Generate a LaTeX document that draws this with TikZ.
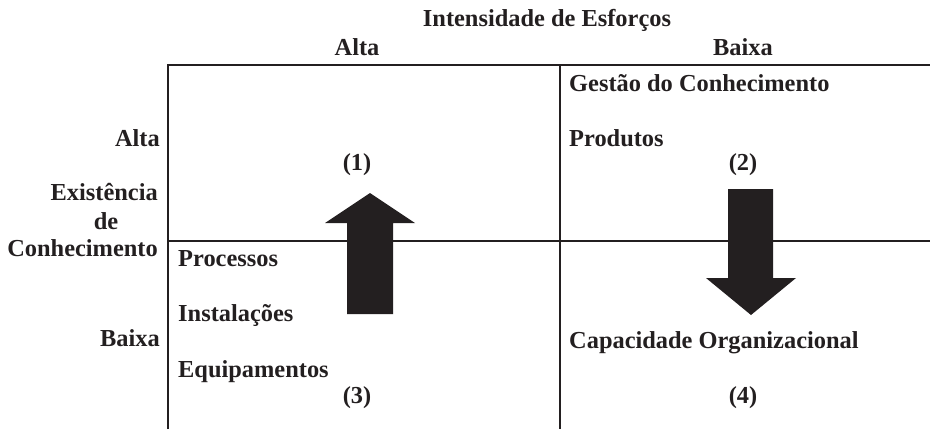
\documentclass[tikz,border=0pt]{standalone}
\usepackage{fontspec}
\setmainfont{Liberation Serif}
\definecolor{ink}{HTML}{231F20}
\tikzset{
  lbl/.style={inner sep=0pt, text=ink, font=\fontsize{24.4}{28}\selectfont\bfseries},
  grid/.style={draw=ink, line width=2pt},
  bigarrow/.style={fill=ink, draw=none}
}
\begin{document}
\begin{tikzpicture}[x=1pt,y=-1pt]
\useasboundingbox (0,0) rectangle (930,429);
% grid
\draw[grid] (168,429) -- (168,65) -- (930,65);
\draw[grid] (560,65) -- (560,429);
\draw[grid] (168,241) -- (930,241);
% arrows
\fill[bigarrow] (370,193) -- (415,223) -- (393,223) -- (393,314) -- (347,314) -- (347,223) -- (325,223) -- cycle;
\fill[bigarrow] (751,315) -- (796,278) -- (773,278) -- (773,189) -- (728,189) -- (728,278) -- (706,278) -- cycle;
% headers
\node[lbl, anchor=base] (title) at (547,26) {Intensidade de Esforços};
\node[lbl, anchor=base] (hAlta) at (357,55) {Alta};
\node[lbl, anchor=base] (hBaixa) at (743,55) {Baixa};
% left labels
\node[lbl, anchor=base east] (vAlta) at (160,146) {Alta};
\node[lbl, anchor=base east] (ex1) at (158,200) {Existência};
\node[lbl, anchor=base] (ex2) at (106,229) {de};
\node[lbl, anchor=base east] (ex3) at (158,256) {Conhecimento};
\node[lbl, anchor=base east] (vBaixa) at (160,346) {Baixa};
% quadrant 2
\node[lbl, anchor=base west] (gc) at (569,91) {Gestão do Conhecimento};
\node[lbl, anchor=base west] (prod) at (569,146) {Produtos};
\node[lbl, anchor=base] (q2) at (743,170) {(2)};
% quadrant 1
\node[lbl, anchor=base] (q1) at (357,170) {(1)};
% quadrant 3
\node[lbl, anchor=base west] (proc) at (178,266) {Processos};
\node[lbl, anchor=base west] (inst) at (178,321) {Instalações};
\node[lbl, anchor=base west] (equip) at (178,377) {Equipamentos};
\node[lbl, anchor=base] (q3) at (357,403) {(3)};
% quadrant 4
\node[lbl, anchor=base west] (cap) at (569,348) {Capacidade Organizacional};
\node[lbl, anchor=base] (q4) at (743,403) {(4)};
\end{tikzpicture}
\end{document}
